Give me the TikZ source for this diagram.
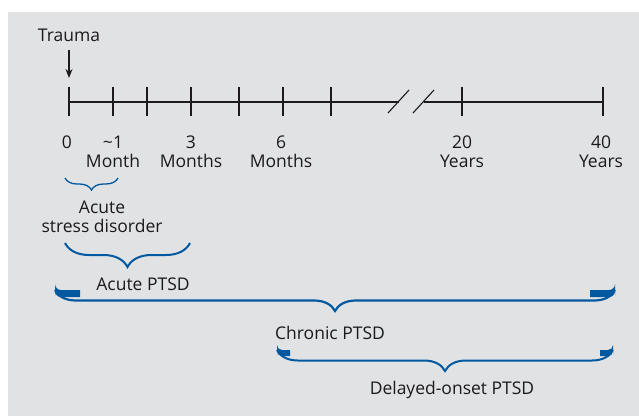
\documentclass[tikz,border=0pt]{standalone}
\usepackage{fontspec}
\setmainfont{Open Sans}
\usetikzlibrary{decorations.pathreplacing,arrows.meta}
\definecolor{bracecol}{RGB}{0,88,160}
\definecolor{panel}{RGB}{225,226,228}
\definecolor{ink}{RGB}{28,26,27}

\begin{document}
\begin{tikzpicture}[
    x = 1pt, y = 1pt,
    every node/.style={ inner sep = 0pt, align = center,
      text = ink, font = \fontsize{17.5}{19}\selectfont },
    axis/.style={ draw = ink, line width = 1.1pt },
    spanbrace/.style={ draw = bracecol, decorate,
      decoration = {brace, mirror, amplitude = #1} },
    tab/.style={ fill = bracecol }
    ]
  \useasboundingbox (0,0) rectangle (639,416);
  \fill[panel] (8,0) rectangle (639,404);

  \node (trauma) at (69,381) {Trauma};
  \coordinate (hit) at (69,338);
  \draw[axis, -{Stealth[length=9pt,width=7pt]}, shorten <= 8pt] (trauma) -- (hit);

  \coordinate (start) at (69,314);
  \coordinate (gapl) at (399,314);
  \coordinate (gapr) at (424,314);
  \coordinate (stop) at (603,314);
  \draw[axis] (start) -- (gapl);
  \draw[axis] (gapr) -- (stop);
  \foreach \t in {69,113,147,191,239,283,331,462,603}
    \draw[axis] (\t,300) -- (\t,329);
  \draw[axis] (388,303) -- (409,326);
  \draw[axis] (413,303) -- (434,326);

  \node (l0) [anchor = north] at (67,280) {0};
  \node (l1) [anchor = north] at (113,280) {\textasciitilde 1\\Month};
  \node (l3) [anchor = north] at (191,280) {3\\Months};
  \node (l6) [anchor = north] at (281,280) {6\\Months};
  \node (l20) [anchor = north] at (462,280) {20\\Years};
  \node (l40) [anchor = north] at (601,280) {40\\Years};

  \coordinate (asdL) at (65,238);
  \coordinate (asdR) at (118,238);
  \draw[spanbrace = 12, line width = 1.3pt] (asdL) -- (asdR);
  \node (asd) at (102,199) {Acute\\stress disorder};

  \coordinate (aptL) at (65,173);
  \coordinate (aptR) at (190,173);
  \draw[spanbrace = 24, line width = 2pt] (aptL) -- (aptR);
  \node (apt) at (143,132) {Acute PTSD};

  \coordinate (cptL) at (55,126);
  \coordinate (cptR) at (615,126);
  \draw[spanbrace = 21, line width = 2.2pt] (cptL) -- (cptR);
  \fill[tab] (cptL) -- ++(25,0) -- ++(0,-7) [rounded corners = 6pt] -| (cptL) -- cycle;
  \fill[tab] (cptR) -- ++(-25,0) -- ++(0,-7) [rounded corners = 6pt] -| (cptR) -- cycle;
  \node (cpt) at (330,83) {Chronic PTSD};

  \coordinate (dptL) at (277,66);
  \coordinate (dptR) at (613,66);
  \draw[spanbrace = 21, line width = 2pt] (dptL) -- (dptR);
  \fill[tab] (dptL) -- ++(13,0) -- ++(0,-6) [rounded corners = 5pt] -| (dptL) -- cycle;
  \fill[tab] (dptR) -- ++(-13,0) -- ++(0,-6) [rounded corners = 5pt] -| (dptR) -- cycle;
  \node (dpt) at (452,26) {Delayed-onset PTSD};
\end{tikzpicture}
\end{document}
